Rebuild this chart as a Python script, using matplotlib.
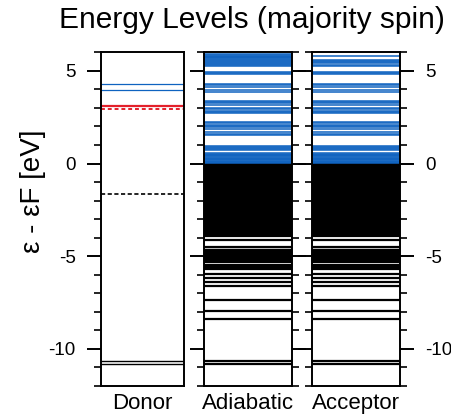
import numpy as np
import matplotlib
matplotlib.use('Agg')
import matplotlib.pyplot as plt

plt.rcParams['font.family'] = ['Liberation Sans', 'DejaVu Sans']
plt.rcParams['axes.unicode_minus'] = False

# energy levels in eV relative to the Fermi level
donor_unocc = [3.98, 4.3]
donor_occ = [-10.8, -10.63]
donor_red = 3.13
donor_red_dash = 2.96
donor_black_dash = -1.65

occ_levels = [-0.02, -0.07, -0.13, -0.18, -0.24, -0.29, -0.35, -0.41, -0.46, -0.52,
               -0.57, -0.63, -0.69, -0.74, -0.8, -0.85, -0.91, -0.96, -1.02, -1.08,
               -1.13, -1.19, -1.24, -1.3, -1.35, -1.41, -1.47, -1.52, -1.58, -1.63,
               -1.69, -1.74, -1.8, -1.86, -1.91, -1.97, -2.02, -2.08, -2.13, -2.19,
               -2.25, -2.3, -2.36, -2.41, -2.47, -2.52, -2.58, -2.64, -2.69, -2.75,
               -2.8, -2.86, -2.91, -2.97, -3.03, -3.08, -3.14, -3.19, -3.25, -3.3,
               -3.36, -3.42, -3.47, -3.53, -3.58, -3.64, -3.69, -3.75, -3.81, -3.86,
               -3.92, -4.11, -4.51, -4.64, -4.69, -4.75, -4.81, -4.86, -4.95, -5.0,
               -5.06, -5.12, -5.18, -5.3, -5.45, -5.57, -5.63, -5.68, -5.95, -6.16,
               -6.4, -6.61, -7.36, -7.95, -8.39, -10.63, -10.8]

adia_unocc = [0.02, 0.06, 0.1, 0.14, 0.18, 0.22, 0.27, 0.31, 0.35, 0.4, 0.44, 0.48,
              0.53, 0.57, 0.72, 0.78, 0.85, 0.91, 0.97, 1.53, 1.6, 1.68, 1.88, 1.95,
              2.02, 2.1, 2.17, 2.23, 2.71, 2.78, 2.85, 2.93, 3.02, 3.18, 3.25, 3.32,
              3.39, 3.85, 3.95, 4.15, 4.22, 4.29, 4.83, 4.9, 4.96, 5.27, 5.32, 5.37,
              5.42, 5.47, 5.52, 5.57, 5.62, 5.67, 5.72, 5.77, 5.82, 5.87, 5.92]
acc_unocc = [0.02, 0.06, 0.1, 0.14, 0.18, 0.22, 0.27, 0.31, 0.35, 0.4, 0.44, 0.48,
             0.53, 0.57, 0.72, 0.78, 0.85, 0.91, 0.97, 1.53, 1.6, 1.68, 1.88, 1.95,
             2.02, 2.1, 2.17, 2.23, 2.71, 2.78, 2.85, 2.93, 3.02, 3.18, 3.25, 3.32,
             3.39, 3.85, 3.95, 4.15, 4.22, 4.29, 4.83, 4.9, 4.96, 5.27, 5.33, 5.42,
             5.47, 5.52, 5.58, 5.78]

panel_names = ['Donor', 'Adiabatic', 'Acceptor']
blue = '#0f63c0'
red = '#e3202b'

fig = plt.figure(figsize=(4.51, 4.17), dpi=100)
lefts = [100.7, 204, 312.3]
widths = [83.6, 87.7, 87.7]
axes = []
for l, w in zip(lefts, widths):
    axes.append(fig.add_axes([l/451, 31/417, w/451, 333.7/417]))

def draw_levels(ax, levels, color, ls='-', lw=1.0):
    for e in levels:
        ax.axhline(e, color=color, ls=ls, lw=lw)

ax = axes[0]
draw_levels(ax, donor_unocc, blue, lw=0.9)
draw_levels(ax, donor_occ, 'black', lw=1.0)
ax.axhline(donor_red, color=red, lw=1.6)
ax.axhline(donor_red_dash, color=red, ls=(0, (2, 1.5)), lw=1.4)
ax.axhline(donor_black_dash, color='black', ls=(0, (2.5, 1.5)), lw=1.2)

for ax, unocc in zip(axes[1:], [adia_unocc, acc_unocc]):
    draw_levels(ax, occ_levels, 'black', lw=1.6)
    draw_levels(ax, unocc, blue, lw=1.1)

for i, ax in enumerate(axes):
    ax.set_ylim(-12, 6)
    ax.set_xlim(0, 1)
    ax.set_xticks([])
    ax.set_yticks([-10, -5, 0, 5])
    ax.set_yticks(range(-12, 7), minor=True)
    for s in ax.spines.values():
        s.set_linewidth(1.4)
    ax.tick_params(axis='y', which='major', direction='out', length=10, width=1.4,
                   labelsize=13.5, pad=8)
    ax.tick_params(axis='y', which='minor', direction='out', length=5, width=1.2)
    ax.set_xlabel(panel_names[i], fontsize=16, labelpad=5)
    if i == 0:
        ax.tick_params(axis='y', left=True, right=False, labelleft=True, labelright=False,
                       which='both')
    elif i == 1:
        ax.tick_params(axis='y', left=True, right=True, labelleft=False, labelright=False,
                       which='both')
    else:
        ax.tick_params(axis='y', left=True, right=True, labelleft=False, labelright=True,
                       which='both')

fig.text(33/451, 1 - 191/417, 'ε - εF [eV]', rotation=90, ha='center', va='center',
         fontsize=20)
fig.text(252/451, 1 - 20/417, 'Energy Levels (majority spin)', ha='center', va='center',
         fontsize=21.5)

plt.savefig('out.png', dpi=100)
